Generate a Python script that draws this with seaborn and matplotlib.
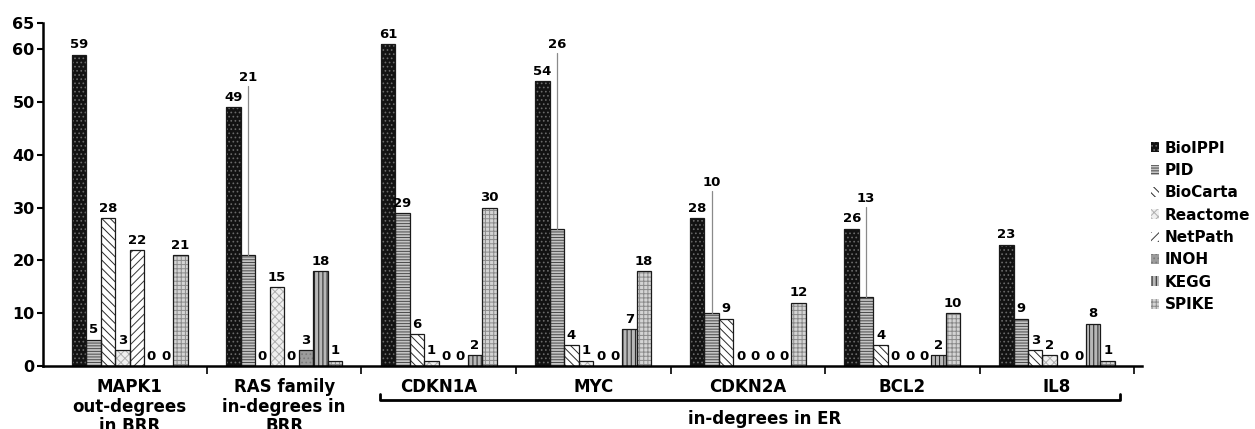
import matplotlib
matplotlib.use("Agg")
import matplotlib.pyplot as plt
import matplotlib.transforms as mtransforms
from matplotlib.patches import Patch, Rectangle
import seaborn as sns
import pandas as pd

categories = ["MAPK1\nout-degrees\nin BRR", "RAS family\nin-degrees in\nBRR",
              "CDKN1A", "MYC", "CDKN2A", "BCL2", "IL8"]
sources = ["BioIPPI", "PID", "BioCarta", "Reactome", "NetPath", "INOH", "KEGG", "SPIKE"]

BioIPPI  = [59, 49, 61, 54, 28, 26, 23]
PID      = [5, 21, 29, 26, 10, 13, 9]
BioCarta = [28, 0, 6, 4, 9, 4, 3]
Reactome = [3, 15, 1, 1, 0, 0, 2]
NetPath  = [22, 0, 0, 0, 0, 0, 0]
INOH     = [0, 3, 0, 0, 0, 0, 0]
KEGG     = [0, 18, 2, 7, 0, 2, 8]
SPIKE    = [21, 1, 30, 18, 12, 10, 1]

group_label = "in-degrees in ER"
yticks = [0, 10, 20, 30, 40, 50, 60, 65]

series = dict(BioIPPI=BioIPPI, PID=PID, BioCarta=BioCarta, Reactome=Reactome,
              NetPath=NetPath, INOH=INOH, KEGG=KEGG, SPIKE=SPIKE)
rows = []
for s in sources:
    for c, v in zip(categories, series[s]):
        rows.append(dict(category=c, source=s, value=v))
df = pd.DataFrame(rows)

# styles: face colour, hatch, hatch colour
styles = {
    "BioIPPI":  ("#121212", "....", "#6a6a6a"),
    "PID":      ("#c4c4c4", "------", "#4a4a4a"),
    "BioCarta": ("#ffffff", "\\\\\\\\", "#2a2a2a"),
    "Reactome": ("#f0f0f0", "xxxx", "#b0b0b0"),
    "NetPath":  ("#ffffff", "////", "#3a3a3a"),
    "INOH":     ("#9c9c9c", "....", "#7a7a7a"),
    "KEGG":     ("#b8b8b8", "||||", "#1e1e1e"),
    "SPIKE":    ("#d4d4d4", "++++", "#8a8a8a"),
}
# raised labels (label y position) for some bars
raised = {(1, "PID"): 54.0, (3, "PID"): 60.3, (4, "PID"): 34.1, (5, "PID"): 31.1}

sns.set_style("ticks")
plt.rcParams["font.family"] = ["DejaVu Sans"]
plt.rcParams["font.weight"] = "bold"
plt.rcParams["hatch.linewidth"] = 0.7
plt.rcParams["text.color"] = "black"
plt.rcParams["xtick.color"] = "black"
plt.rcParams["ytick.color"] = "black"
plt.rcParams["xtick.labelcolor"] = "black"
plt.rcParams["ytick.labelcolor"] = "black"

fig = plt.figure(figsize=(12.55, 4.29), dpi=100)
ax = fig.add_axes([43 / 1255, 1 - 366 / 429, (1142 - 43) / 1255, (366 - 23) / 429])

palette = {s: styles[s][0] for s in sources}
sns.barplot(data=df, x="category", y="value", hue="source", order=categories,
            hue_order=sources, palette=palette, saturation=1, width=0.75,
            legend=False, ax=ax, errorbar=None)

# assign patches to series by position
patches = [p for p in ax.patches]
by_cat = {}
for p in patches:
    xc = p.get_x() + p.get_width() / 2
    ci = int(round(xc))
    by_cat.setdefault(ci, []).append(p)

for ci, plist in by_cat.items():
    plist.sort(key=lambda p: p.get_x())
    for si, p in enumerate(plist):
        s = sources[si]
        face, hatch, hcol = styles[s]
        p.set_facecolor(face)
        p.set_hatch(hatch)
        p.set_edgecolor(hcol)
        p.set_linewidth(0)
        h = p.get_height()
        xc = p.get_x() + p.get_width() / 2
        if h > 0:
            ax.add_patch(Rectangle((p.get_x(), 0), p.get_width(), h, fill=False,
                                   edgecolor="#1a1a1a", linewidth=0.9, zorder=p.get_zorder() + 0.1))
        val = series[s][ci]
        if (ci, s) in raised:
            ly = raised[(ci, s)]
            ax.plot([xc, xc], [h, ly - 0.9], color="#8a8a8a", lw=0.9, zorder=3)
            ax.text(xc, ly, f"{val}", ha="center", va="baseline", fontsize=9.5,
                    fontweight="bold", color="black")
        else:
            ax.text(xc, h + 1.2, f"{val}", ha="center", va="baseline", fontsize=9.5,
                    fontweight="bold", color="black")

ax.set_xlim(-0.56, 6.55)
ax.set_ylim(0, 65)
ax.set_yticks(yticks)
ax.set_yticklabels([str(t) for t in yticks], fontsize=11.5, fontweight="bold")
ax.set_xticks(range(len(categories)))
ax.set_xticklabels(categories, fontsize=12, fontweight="bold", linespacing=1.1)
ax.tick_params(axis="x", which="major", length=0, pad=9)
ax.set_xticks([i + 0.5 for i in range(len(categories))], minor=True)
ax.tick_params(axis="x", which="minor", length=6, width=1.2, direction="out")
ax.tick_params(axis="y", length=4, width=1.5, pad=2)
ax.set_xlabel("")
ax.set_ylabel("")
for sp in ["top", "right"]:
    ax.spines[sp].set_visible(False)
for sp in ["left", "bottom"]:
    ax.spines[sp].set_linewidth(1.8)
    ax.spines[sp].set_color("black")

# bracket under ER categories
trans = mtransforms.blended_transform_factory(ax.transData, fig.transFigure)
x0, x1 = 1.62, 6.41
yb = 1 - 400 / 429
yt = 1 - 394 / 429
ax.plot([x0, x0, x1, x1], [yt, yb, yb, yt], transform=trans, color="black",
        lw=2, clip_on=False)
ax.text(4.11, 1 - 410 / 429, group_label, transform=trans, ha="center", va="top",
        fontsize=12, fontweight="bold", color="black")

handles = [Patch(facecolor=styles[s][0], hatch=styles[s][1], edgecolor=styles[s][2],
                 linewidth=0) for s in sources]
leg = fig.legend(handles, sources, loc="upper left",
                 bbox_to_anchor=(1143 / 1255, 1 - 133 / 429), frameon=False,
                 handlelength=0.55, handleheight=0.65, handletextpad=0.35,
                 labelspacing=0.48, borderpad=0, prop=dict(weight="bold", size=11))

fig.savefig("out.png", dpi=100)
